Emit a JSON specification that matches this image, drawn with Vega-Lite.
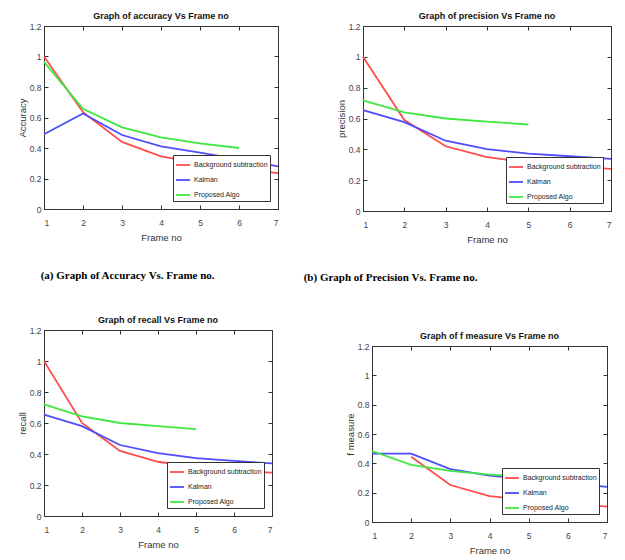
{
  "$schema": "https://vega.github.io/schema/vega-lite/v6.json",
  "padding": {"left": 16, "top": 11, "right": 0, "bottom": 0},
  "background": "white",
  "config": {
    "view": {"stroke": "#333333", "strokeWidth": 1},
    "font": "Liberation Sans",
    "title": {"font": "Liberation Sans", "fontSize": 9, "fontWeight": "bold", "color": "#111111", "offset": 1},
    "axis": {
      "grid": false,
      "domainColor": "#333333",
      "tickColor": "#333333",
      "tickSize": -4,
      "labelFont": "Liberation Sans",
      "labelFontSize": 8.5,
      "labelColor": "#444444",
      "titleFont": "Liberation Sans",
      "titleFontSize": 9.5,
      "titleFontWeight": "normal",
      "titleColor": "#333333"
    },
    "axisX": {"labelPadding": 13, "titlePadding": 6},
    "axisY": {"labelPadding": 7, "titlePadding": 2},
    "legend": {
      "orient": "bottom-right",
      "offset": 8,
      "title": null,
      "fillColor": "white",
      "strokeColor": "#333333",
      "padding": 2,
      "symbolType": "stroke",
      "symbolSize": 196,
      "symbolStrokeWidth": 1.8,
      "labelOffset": 3,
      "labelFont": "Liberation Sans",
      "labelFontSize": 7,
      "labelColor": "#222222",
      "rowPadding": 3,
      "labelLimit": 200
    },
    "line": {"strokeWidth": 1.8}
  },
  "datasets": {
    "perf": [
      {"metric": "accuracy", "method": "Background subtraction", "frame": 1, "value": 1.0},
      {"metric": "accuracy", "method": "Background subtraction", "frame": 2, "value": 0.635},
      {"metric": "accuracy", "method": "Background subtraction", "frame": 3, "value": 0.44},
      {"metric": "accuracy", "method": "Background subtraction", "frame": 4, "value": 0.345},
      {"metric": "accuracy", "method": "Background subtraction", "frame": 5, "value": 0.3},
      {"metric": "accuracy", "method": "Background subtraction", "frame": 6, "value": 0.265},
      {"metric": "accuracy", "method": "Background subtraction", "frame": 7, "value": 0.235},
      {"metric": "accuracy", "method": "Kalman", "frame": 1, "value": 0.49},
      {"metric": "accuracy", "method": "Kalman", "frame": 2, "value": 0.626},
      {"metric": "accuracy", "method": "Kalman", "frame": 3, "value": 0.485},
      {"metric": "accuracy", "method": "Kalman", "frame": 4, "value": 0.41},
      {"metric": "accuracy", "method": "Kalman", "frame": 5, "value": 0.37},
      {"metric": "accuracy", "method": "Kalman", "frame": 6, "value": 0.325},
      {"metric": "accuracy", "method": "Kalman", "frame": 7, "value": 0.28},
      {"metric": "accuracy", "method": "Proposed Algo", "frame": 1, "value": 0.965},
      {"metric": "accuracy", "method": "Proposed Algo", "frame": 2, "value": 0.657},
      {"metric": "accuracy", "method": "Proposed Algo", "frame": 3, "value": 0.535},
      {"metric": "accuracy", "method": "Proposed Algo", "frame": 4, "value": 0.47},
      {"metric": "accuracy", "method": "Proposed Algo", "frame": 5, "value": 0.43},
      {"metric": "accuracy", "method": "Proposed Algo", "frame": 6, "value": 0.4},
      {"metric": "precision", "method": "Background subtraction", "frame": 1, "value": 1.0},
      {"metric": "precision", "method": "Background subtraction", "frame": 2, "value": 0.59},
      {"metric": "precision", "method": "Background subtraction", "frame": 3, "value": 0.42},
      {"metric": "precision", "method": "Background subtraction", "frame": 4, "value": 0.35},
      {"metric": "precision", "method": "Background subtraction", "frame": 5, "value": 0.315},
      {"metric": "precision", "method": "Background subtraction", "frame": 6, "value": 0.29},
      {"metric": "precision", "method": "Background subtraction", "frame": 7, "value": 0.273},
      {"metric": "precision", "method": "Kalman", "frame": 1, "value": 0.654},
      {"metric": "precision", "method": "Kalman", "frame": 2, "value": 0.576},
      {"metric": "precision", "method": "Kalman", "frame": 3, "value": 0.456},
      {"metric": "precision", "method": "Kalman", "frame": 4, "value": 0.402},
      {"metric": "precision", "method": "Kalman", "frame": 5, "value": 0.372},
      {"metric": "precision", "method": "Kalman", "frame": 6, "value": 0.355},
      {"metric": "precision", "method": "Kalman", "frame": 7, "value": 0.338},
      {"metric": "precision", "method": "Proposed Algo", "frame": 1, "value": 0.718},
      {"metric": "precision", "method": "Proposed Algo", "frame": 2, "value": 0.639},
      {"metric": "precision", "method": "Proposed Algo", "frame": 3, "value": 0.6},
      {"metric": "precision", "method": "Proposed Algo", "frame": 4, "value": 0.58},
      {"metric": "precision", "method": "Proposed Algo", "frame": 5, "value": 0.561},
      {"metric": "recall", "method": "Background subtraction", "frame": 1, "value": 1.0},
      {"metric": "recall", "method": "Background subtraction", "frame": 2, "value": 0.6},
      {"metric": "recall", "method": "Background subtraction", "frame": 3, "value": 0.42},
      {"metric": "recall", "method": "Background subtraction", "frame": 4, "value": 0.35},
      {"metric": "recall", "method": "Background subtraction", "frame": 5, "value": 0.315},
      {"metric": "recall", "method": "Background subtraction", "frame": 6, "value": 0.29},
      {"metric": "recall", "method": "Background subtraction", "frame": 7, "value": 0.28},
      {"metric": "recall", "method": "Kalman", "frame": 1, "value": 0.654},
      {"metric": "recall", "method": "Kalman", "frame": 2, "value": 0.58},
      {"metric": "recall", "method": "Kalman", "frame": 3, "value": 0.458},
      {"metric": "recall", "method": "Kalman", "frame": 4, "value": 0.405},
      {"metric": "recall", "method": "Kalman", "frame": 5, "value": 0.373},
      {"metric": "recall", "method": "Kalman", "frame": 6, "value": 0.355},
      {"metric": "recall", "method": "Kalman", "frame": 7, "value": 0.339},
      {"metric": "recall", "method": "Proposed Algo", "frame": 1, "value": 0.72},
      {"metric": "recall", "method": "Proposed Algo", "frame": 2, "value": 0.643},
      {"metric": "recall", "method": "Proposed Algo", "frame": 3, "value": 0.6},
      {"metric": "recall", "method": "Proposed Algo", "frame": 4, "value": 0.58},
      {"metric": "recall", "method": "Proposed Algo", "frame": 5, "value": 0.561},
      {"metric": "f measure", "method": "Background subtraction", "frame": 2, "value": 0.445},
      {"metric": "f measure", "method": "Background subtraction", "frame": 3, "value": 0.252},
      {"metric": "f measure", "method": "Background subtraction", "frame": 4, "value": 0.177},
      {"metric": "f measure", "method": "Background subtraction", "frame": 5, "value": 0.15},
      {"metric": "f measure", "method": "Background subtraction", "frame": 6, "value": 0.13},
      {"metric": "f measure", "method": "Background subtraction", "frame": 7, "value": 0.105},
      {"metric": "f measure", "method": "Kalman", "frame": 1, "value": 0.466},
      {"metric": "f measure", "method": "Kalman", "frame": 2, "value": 0.466},
      {"metric": "f measure", "method": "Kalman", "frame": 3, "value": 0.36},
      {"metric": "f measure", "method": "Kalman", "frame": 4, "value": 0.316},
      {"metric": "f measure", "method": "Kalman", "frame": 5, "value": 0.29},
      {"metric": "f measure", "method": "Kalman", "frame": 6, "value": 0.265},
      {"metric": "f measure", "method": "Kalman", "frame": 7, "value": 0.24},
      {"metric": "f measure", "method": "Proposed Algo", "frame": 1, "value": 0.484},
      {"metric": "f measure", "method": "Proposed Algo", "frame": 2, "value": 0.389},
      {"metric": "f measure", "method": "Proposed Algo", "frame": 3, "value": 0.348},
      {"metric": "f measure", "method": "Proposed Algo", "frame": 4, "value": 0.323},
      {"metric": "f measure", "method": "Proposed Algo", "frame": 5, "value": 0.305}
    ]
  },
  "resolve": {"legend": {"color": "independent"}},
  "columns": 2,
  "align": "none",
  "spacing": {"row": 32, "column": 20},
  "concat": [
    {
      "title": {"text": "(a) Graph of Accuracy Vs. Frame no.", "orient": "bottom", "anchor": "start", "font": "Liberation Serif", "fontSize": 11, "fontWeight": "bold", "color": "#000000", "offset": 27, "dx": 24},
      "resolve": {"legend": {"color": "independent"}},
      "vconcat": [
        {
          "title": "Graph of accuracy Vs Frame no",
          "width": 234, "height": 183,
          "data": {"name": "perf"},
          "transform": [{"filter": "datum.metric == 'accuracy'"}],
          "layer": [
            {
              "mark": {"type": "line"},
              "encoding": {
                "x": {"field": "frame", "type": "quantitative", "scale": {"domain": [1, 7]}, "axis": {"values": [1, 2, 3, 4, 5, 6, 7], "title": "Frame no"}},
                "y": {"field": "value", "type": "quantitative", "scale": {"domain": [0, 1.2]}, "axis": {"values": [0, 0.2, 0.4, 0.6, 0.8, 1, 1.2], "format": "~g", "title": "Accuracy"}},
                "color": {"field": "method", "type": "nominal", "scale": {"domain": ["Background subtraction", "Kalman", "Proposed Algo"], "range": ["#ff4d4d", "#4d4dff", "#3ee83e"]}}
              }
            },
            {
              "mark": {"type": "line", "strokeOpacity": 0},
              "encoding": {
                "x": {"field": "frame", "type": "quantitative", "axis": {"orient": "top", "values": [1, 2, 3, 4, 5, 6, 7], "labels": false, "title": null}},
                "y": {"field": "value", "type": "quantitative", "axis": {"orient": "right", "values": [0, 0.2, 0.4, 0.6, 0.8, 1, 1.2], "labels": false, "title": null}}
              }
            }
          ],
          "resolve": {"axis": {"x": "independent", "y": "independent"}}
        }
      ]
    },
    {
      "title": {"text": "(b) Graph of Precision Vs. Frame no.", "orient": "bottom", "anchor": "start", "font": "Liberation Serif", "fontSize": 11, "fontWeight": "bold", "color": "#000000", "offset": 27, "dx": -32},
      "resolve": {"legend": {"color": "independent"}},
      "vconcat": [
        {
          "title": "Graph of precision Vs Frame no",
          "width": 248, "height": 185,
          "data": {"name": "perf"},
          "transform": [{"filter": "datum.metric == 'precision'"}],
          "layer": [
            {
              "mark": {"type": "line"},
              "encoding": {
                "x": {"field": "frame", "type": "quantitative", "scale": {"domain": [1, 7]}, "axis": {"values": [1, 2, 3, 4, 5, 6, 7], "title": "Frame no"}},
                "y": {"field": "value", "type": "quantitative", "scale": {"domain": [0, 1.2]}, "axis": {"values": [0, 0.2, 0.4, 0.6, 0.8, 1, 1.2], "format": "~g", "title": "precision"}},
                "color": {"field": "method", "type": "nominal", "scale": {"domain": ["Background subtraction", "Kalman", "Proposed Algo"], "range": ["#ff4d4d", "#4d4dff", "#3ee83e"]}}
              }
            },
            {
              "mark": {"type": "line", "strokeOpacity": 0},
              "encoding": {
                "x": {"field": "frame", "type": "quantitative", "axis": {"orient": "top", "values": [1, 2, 3, 4, 5, 6, 7], "labels": false, "title": null}},
                "y": {"field": "value", "type": "quantitative", "axis": {"orient": "right", "values": [0, 0.2, 0.4, 0.6, 0.8, 1, 1.2], "labels": false, "title": null}}
              }
            }
          ],
          "resolve": {"axis": {"x": "independent", "y": "independent"}}
        }
      ]
    },
    {
      "title": "Graph of recall Vs Frame no",
      "width": 228, "height": 186,
      "data": {"name": "perf"},
      "transform": [{"filter": "datum.metric == 'recall'"}],
      "layer": [
        {
          "mark": {"type": "line"},
          "encoding": {
            "x": {"field": "frame", "type": "quantitative", "scale": {"domain": [1, 7]}, "axis": {"values": [1, 2, 3, 4, 5, 6, 7], "title": "Frame no"}},
            "y": {"field": "value", "type": "quantitative", "scale": {"domain": [0, 1.2]}, "axis": {"values": [0, 0.2, 0.4, 0.6, 0.8, 1, 1.2], "format": "~g", "title": "recall"}},
            "color": {"field": "method", "type": "nominal", "scale": {"domain": ["Background subtraction", "Kalman", "Proposed Algo"], "range": ["#ff4d4d", "#4d4dff", "#3ee83e"]}}
          }
        },
        {
          "mark": {"type": "line", "strokeOpacity": 0},
          "encoding": {
            "x": {"field": "frame", "type": "quantitative", "axis": {"orient": "top", "values": [1, 2, 3, 4, 5, 6, 7], "labels": false, "title": null}},
            "y": {"field": "value", "type": "quantitative", "axis": {"orient": "right", "values": [0, 0.2, 0.4, 0.6, 0.8, 1, 1.2], "labels": false, "title": null}}
          }
        }
      ],
      "resolve": {"axis": {"x": "independent", "y": "independent"}}
    },
    {
      "title": {"text": [" ", "Graph of f measure Vs Frame no"], "lineHeight": 16},
      "width": 235, "height": 176,
      "data": {"name": "perf"},
      "transform": [{"filter": "datum.metric == 'f measure'"}],
      "layer": [
        {
          "mark": {"type": "line"},
          "encoding": {
            "x": {"field": "frame", "type": "quantitative", "scale": {"domain": [1, 7]}, "axis": {"values": [1, 2, 3, 4, 5, 6, 7], "title": "Frame no"}},
            "y": {"field": "value", "type": "quantitative", "scale": {"domain": [0, 1.2]}, "axis": {"values": [0, 0.2, 0.4, 0.6, 0.8, 1, 1.2], "format": "~g", "title": [" ", "f measure"], "titleLineHeight": 41}},
            "color": {"field": "method", "type": "nominal", "scale": {"domain": ["Background subtraction", "Kalman", "Proposed Algo"], "range": ["#ff4d4d", "#4d4dff", "#3ee83e"]}}
          }
        },
        {
          "mark": {"type": "line", "strokeOpacity": 0},
          "encoding": {
            "x": {"field": "frame", "type": "quantitative", "axis": {"orient": "top", "values": [1, 2, 3, 4, 5, 6, 7], "labels": false, "title": null}},
            "y": {"field": "value", "type": "quantitative", "axis": {"orient": "right", "values": [0, 0.2, 0.4, 0.6, 0.8, 1, 1.2], "labels": false, "title": null}}
          }
        }
      ],
      "resolve": {"axis": {"x": "independent", "y": "independent"}}
    }
  ]
}
